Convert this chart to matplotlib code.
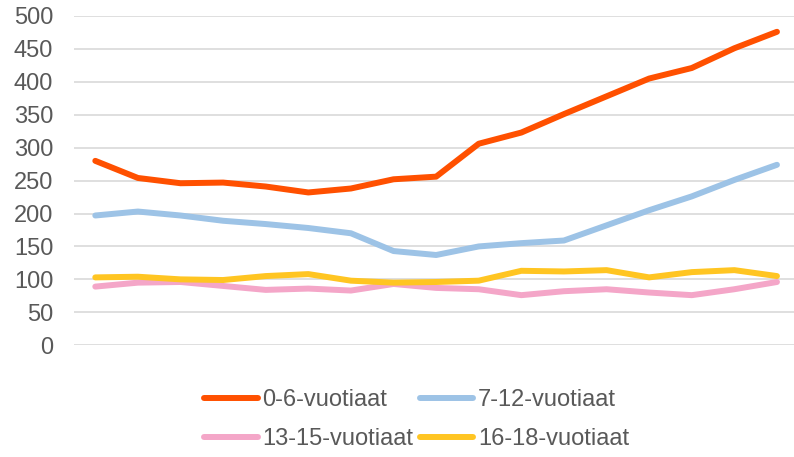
import matplotlib
matplotlib.use("Agg")
import matplotlib.pyplot as plt

# Lapsimäärät ikäryhmittäin, 17 havaintoa
vuodet = list(range(17))
ika_0_6 = [280, 254, 246, 247, 241, 232, 238, 252, 256, 306, 323, 351, 378, 405, 421, 451, 476]
ika_7_12 = [197, 203, 197, 189, 184, 178, 170, 143, 137, 150, 155, 159, 182, 205, 226, 251, 274]
ika_13_15 = [89, 95, 96, 90, 84, 86, 83, 93, 87, 85, 76, 82, 85, 80, 76, 85, 96]
ika_16_18 = [103, 104, 100, 99, 105, 108, 98, 95, 96, 98, 113, 112, 114, 103, 111, 114, 105]

sarjat = [
    ("0-6-vuotiaat", ika_0_6, "#FF5000"),
    ("7-12-vuotiaat", ika_7_12, "#9DC3E6"),
    ("13-15-vuotiaat", ika_13_15, "#F4A6C8"),
    ("16-18-vuotiaat", ika_16_18, "#FFC522"),
]

plt.rcParams["font.family"] = ["Liberation Sans", "DejaVu Sans"]
teksti = "#595959"

fig = plt.figure(figsize=(7.94, 4.57), dpi=100)
ax = fig.add_axes([74 / 794, (457 - 345.2) / 457, 1 - 74 / 794, 329.2 / 457])

viivat = {}
for nimi, arvot, vari in sarjat:
    viivat[nimi], = ax.plot(vuodet, arvot, color=vari, linewidth=4.3, label=nimi,
                            solid_capstyle="round", solid_joinstyle="round")

ax.set_ylim(0, 500)
ax.set_xlim(-0.5, 16.4)
ax.set_yticks(range(0, 501, 50))
ax.set_xticks([])
ax.grid(axis="y", color="#D9D9D9", linewidth=1.2)
ax.set_axisbelow(True)
for s in ax.spines.values():
    s.set_visible(False)
ax.tick_params(axis="y", length=0, pad=15, labelsize=17, labelcolor=teksti)

# legenda riveittäin: 0-6 ja 7-12 ylärivillä
jarjestys = ["0-6-vuotiaat", "13-15-vuotiaat", "7-12-vuotiaat", "16-18-vuotiaat"]
fig.legend([viivat[n] for n in jarjestys], jarjestys,
           loc="center", bbox_to_anchor=(0.525, 0.082), ncol=2, frameon=False,
           fontsize=17, labelcolor=teksti, handlelength=2.25, handletextpad=0.2,
           columnspacing=0.3, labelspacing=0.72)

fig.savefig("out.png", dpi=100)
